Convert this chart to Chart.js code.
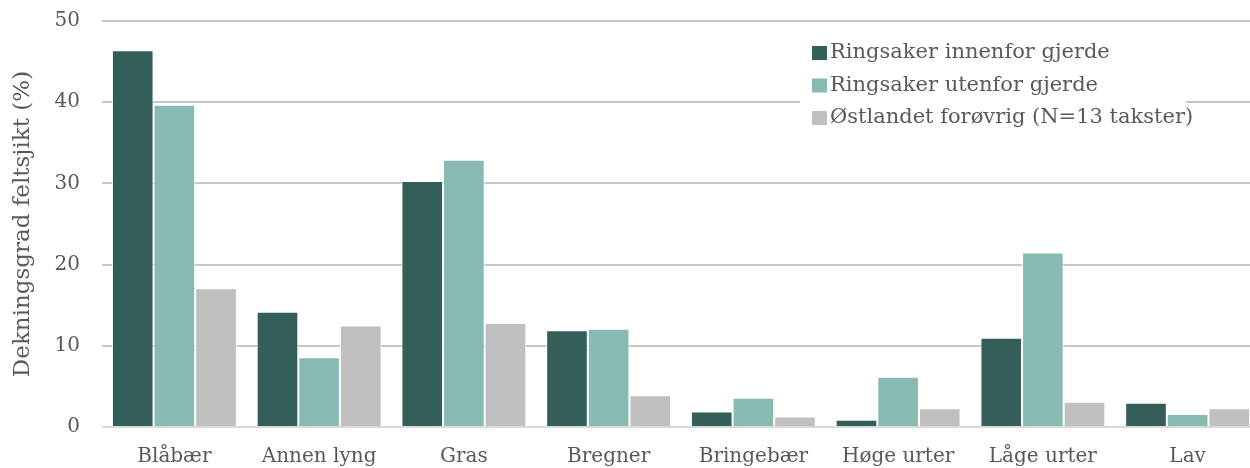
<!DOCTYPE html>
<html>
<head>
<meta charset="utf-8">
<script src="https://cdn.jsdelivr.net/npm/chart.js@4.4.1/dist/chart.umd.min.js"></script>
<style>
  html, body { margin: 0; padding: 0; background: #fff; overflow: hidden; }
  #wrap { width: 1262px; height: 468px; }
</style>
</head>
<body>
<div id="wrap"><canvas id="c" width="1262" height="468"></canvas></div>
<script>
// Vegetation cover in the field layer, by species group
const categories = ['Blåbær', 'Annen lyng', 'Gras', 'Bregner', 'Bringebær', 'Høge urter', 'Låge urter', 'Lav'];
const seriesNames = ['Ringsaker innenfor gjerde', 'Ringsaker utenfor gjerde', 'Østlandet forøvrig (N=13 takster)'];
const innenfor  = [46.4, 14.2, 30.3, 11.9, 1.9, 0.9, 11.0, 3.0];
const utenfor   = [39.7, 8.6, 32.9, 12.1, 3.6, 6.2, 21.5, 1.6];
const ostlandet = [17.1, 12.5, 12.8, 3.9, 1.3, 2.3, 3.1, 2.3];
const yTicks = [0, 10, 20, 30, 40, 50];
const yTitle = 'Dekningsgrad feltsjikt (%)';

const colors = ['#345e58', '#87bab1', '#bfbfbf'];
const textColor = '#595959';
const fontFamily = '"DejaVu Serif", Georgia, serif';

// Legend drawn inside the plot area on a white box
const innerLegend = {
  id: 'innerLegend',
  afterDraw(chart) {
    const ctx = chart.ctx;
    ctx.save();
    ctx.fillStyle = '#fff';
    ctx.fillRect(800, 36, 386, 98);
    ctx.font = '21px ' + fontFamily;
    ctx.textBaseline = 'middle';
    chart.data.datasets.forEach((ds, i) => {
      const y = 53 + i * 32.5;
      ctx.fillStyle = ds.backgroundColor;
      ctx.fillRect(812, y - 7, 15, 14);
      ctx.fillStyle = textColor;
      ctx.fillText(ds.label, 830, y);
    });
    ctx.restore();
  }
};

new Chart(document.getElementById('c'), {
  type: 'bar',
  data: {
    labels: categories,
    datasets: [
      { label: seriesNames[0], data: innenfor, backgroundColor: colors[0] },
      { label: seriesNames[1], data: utenfor, backgroundColor: colors[1] },
      { label: seriesNames[2], data: ostlandet, backgroundColor: colors[2] }
    ]
  },
  options: {
    responsive: false,
    animation: false,
    events: [],
    layout: { padding: { top: 21, right: 2, left: 0, bottom: 0 } },
    datasets: {
      bar: {
        categoryPercentage: 0.863,
        barPercentage: 1.0,
        borderColor: '#ffffff',
        borderWidth: 1,
        borderSkipped: 'bottom'
      }
    },
    plugins: {
      legend: { display: false },
      tooltip: { enabled: false }
    },
    scales: {
      x: {
        grid: { display: false, drawTicks: false },
        border: { display: false },
        ticks: {
          color: textColor,
          font: { family: fontFamily, size: 20 },
          padding: 18,
          maxRotation: 0,
          autoSkip: false
        },
        afterFit(scale) {
          scale.height = 41;
          scale.paddingLeft = 0;
          scale.paddingRight = 0;
        }
      },
      y: {
        min: 0,
        max: 50,
        afterBuildTicks(scale) { scale.ticks = yTicks.map(v => ({ value: v })); },
        grid: {
          drawTicks: false,
          lineWidth: 2,
          color: ctx => ctx.tick && ctx.tick.value === 0 ? '#d9d9d9' : '#c6c6c6'
        },
        border: { display: false },
        ticks: {
          color: textColor,
          font: { family: fontFamily, size: 20 },
          padding: 22
        },
        title: {
          display: true,
          text: yTitle,
          color: textColor,
          font: { family: fontFamily, size: 23 },
          padding: { top: 9, bottom: 0 }
        },
        afterFit(scale) {
          scale.width = 102;
          scale.paddingTop = 0;
          scale.paddingBottom = 0;
        }
      }
    }
  },
  plugins: [innerLegend]
});
</script>
</body>
</html>
